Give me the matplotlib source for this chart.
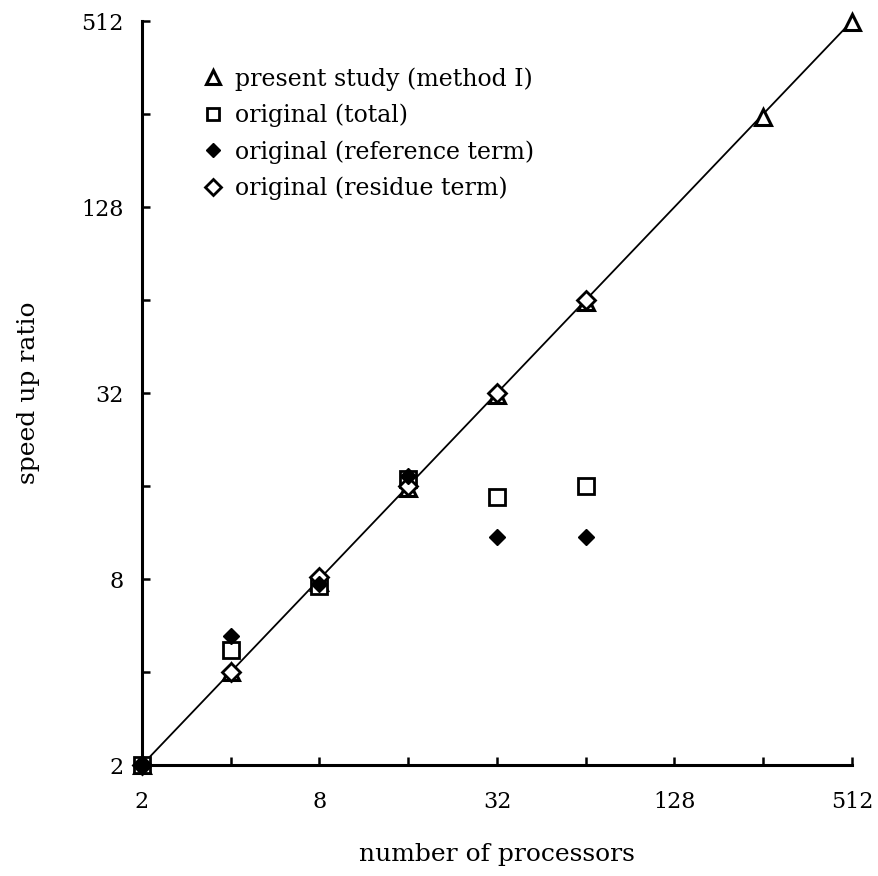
import matplotlib
matplotlib.use("Agg")
import matplotlib.pyplot as plt
from matplotlib.ticker import NullLocator

# processors and measured speed up ratios
proc_present = [2, 4, 8, 16, 32, 64, 256, 512]
speedup_present = [2.0, 4.0, 7.8, 15.8, 31.5, 63.0, 251.0, 510.0]

proc_original = [2, 4, 8, 16, 32, 64]
speedup_total = [2.0, 4.7, 7.6, 16.9, 14.7, 16.0]
speedup_reference = [2.0, 5.25, 7.7, 17.2, 10.9, 10.9]
speedup_residue = [2.0, 4.0, 8.1, 16.0, 32.0, 64.0]

ideal = [2, 512]
tick_values = [2, 8, 32, 128, 512]
tick_labels = ["2", "8", "32", "128", "512"]
minor_values = [4, 16, 64, 256]

plt.rcParams["font.family"] = ["DejaVu Serif"]


def plot_speedup():
    fig = plt.figure(figsize=(8.79, 8.76), dpi=100)
    ax = fig.add_axes([142 / 879, 1 - 765 / 876, (852 - 142) / 879, (765 - 21) / 876])

    ax.set_xscale("log", base=2)
    ax.set_yscale("log", base=2)

    ax.plot(ideal, ideal, color="black", lw=1.3, zorder=1)

    ax.plot(proc_present, speedup_present, ls="none", marker="^", ms=12,
            mfc="white", mec="black", mew=2.2, clip_on=False, zorder=3,
            label="present study (method I)")
    ax.plot(proc_original, speedup_total, ls="none", marker="s", ms=11,
            mfc="white", mec="black", mew=2.0, clip_on=False, zorder=3,
            label="original (total)")
    ax.plot(proc_original, speedup_reference, ls="none", marker="D", ms=8,
            mfc="black", mec="black", mew=1.0, clip_on=False, zorder=4,
            label="original (reference term)")
    ax.plot(proc_original, speedup_residue, ls="none", marker="D", ms=9.5,
            mfc="white", mec="black", mew=2.0, clip_on=False, zorder=3,
            label="original (residue term)")

    ax.set_xlim(2, 512)
    ax.set_ylim(2, 512)

    # labelled ticks at 2, 8, 32, ... and blank ticks in between
    ax.set_xticks(tick_values + minor_values, tick_labels + [""] * len(minor_values))
    ax.set_yticks(tick_values + minor_values, tick_labels + [""] * len(minor_values))
    ax.xaxis.set_minor_locator(NullLocator())
    ax.yaxis.set_minor_locator(NullLocator())

    ax.tick_params(direction="in", length=6, width=1.8, labelsize=16)
    ax.tick_params(axis="x", pad=19)
    ax.tick_params(axis="y", pad=13)
    for side in ("top", "right"):
        ax.spines[side].set_visible(False)
    for side in ("left", "bottom"):
        ax.spines[side].set_linewidth(2.2)

    ax.set_xlabel("number of processors", fontsize=18, labelpad=21)
    ax.set_ylabel("speed up ratio", fontsize=18, labelpad=30)

    ax.legend(loc="upper left", bbox_to_anchor=(205 / 879, 1 - 67 / 876),
              bbox_transform=fig.transFigure, frameon=False, fontsize=17,
              handlelength=0.7, handletextpad=0.55, labelspacing=0.55,
              borderpad=0, borderaxespad=0, markerscale=0.85)

    fig.savefig("out.png", dpi=100)


def main():
    plot_speedup()


if __name__ == "__main__":
    main()
